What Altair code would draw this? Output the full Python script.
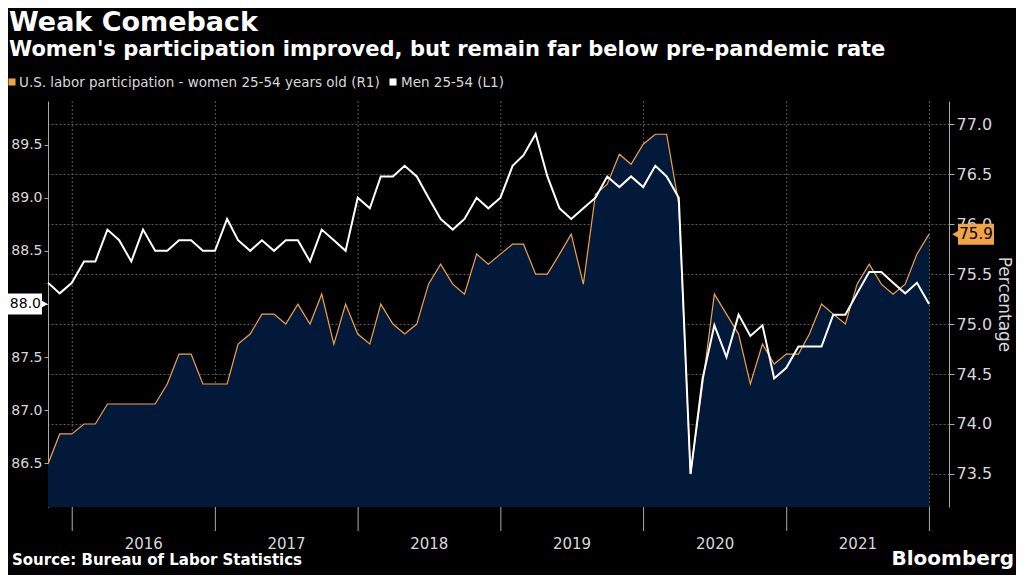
import altair as alt
import pandas as pd

BG = "#000000"
NAVY = "#03193a"
ORANGE = "#f2a444"
GRID = "#5a5a5a"
TEXT = "#d8d8d8"
FONT = "DejaVu Sans"

# monthly readings, Oct 2015 - Dec 2021
women = [
    73.6, 73.9, 73.9, 74.0, 74.0, 74.2, 74.2, 74.2, 74.2, 74.2,
    74.4, 74.7, 74.7, 74.4, 74.4, 74.4, 74.8, 74.9, 75.1, 75.1,
    75.0, 75.2, 75.0, 75.3, 74.8, 75.2, 74.9, 74.8, 75.2, 75.0,
    74.9, 75.0, 75.4, 75.6, 75.4, 75.3, 75.7, 75.6, 75.7, 75.8,
    75.8, 75.5, 75.5, 75.7, 75.9, 75.4, 76.3, 76.4, 76.7, 76.6,
    76.8, 76.9, 76.9, 76.2, 73.5, 74.4, 75.3, 75.1, 74.9, 74.4,
    74.8, 74.6, 74.7, 74.7, 74.9, 75.2, 75.1, 75.0, 75.4, 75.6,
    75.4, 75.3, 75.4, 75.7, 75.9,
]
men = [
    88.2, 88.1, 88.2, 88.4, 88.4, 88.7, 88.6, 88.4, 88.7, 88.5,
    88.5, 88.6, 88.6, 88.5, 88.5, 88.8, 88.6, 88.5, 88.6, 88.5,
    88.6, 88.6, 88.4, 88.7, 88.6, 88.5, 89.0, 88.9, 89.2, 89.2,
    89.3, 89.2, 89.0, 88.8, 88.7, 88.8, 89.0, 88.9, 89.0, 89.3,
    89.4, 89.6, 89.2, 88.9, 88.8, 88.9, 89.0, 89.2, 89.1, 89.2,
    89.1, 89.3, 89.2, 89.0, 86.4, 87.3, 87.8, 87.5, 87.9, 87.7,
    87.8, 87.3, 87.4, 87.6, 87.6, 87.6, 87.9, 87.9, 88.1, 88.3,
    88.3, 88.2, 88.1, 88.2, 88.0,
]
years = ["2016", "2017", "2018", "2019", "2020", "2021"]
left_ticks = [86.5, 87.0, 87.5, 88.0, 88.5, 89.0, 89.5]
right_ticks = [73.5, 74.0, 74.5, 75.0, 75.5, 76.0, 76.5, 77.0]

dates = pd.date_range("2015-10-01", periods=len(women), freq="MS") + pd.offsets.MonthEnd(0)
df = pd.DataFrame({"date": dates, "women": women, "men": men})

W, H = 901, 406
xdom = [pd.Timestamp("2015-10-31").isoformat(), pd.Timestamp("2022-02-20").isoformat()]
xscale = alt.Scale(domain=xdom)
quarters = [d.isoformat() for d in pd.date_range("2016-01-01", "2022-01-01", freq="QS")]
LDOM = [86.09, 89.91]
RDOM = [73.169, 77.233]


def lscale():
    return alt.Scale(domain=LDOM, nice=False, zero=False)


def rscale():
    return alt.Scale(domain=RDOM, nice=False, zero=False)


x_enc = alt.X(
    "date:T", scale=xscale, title=None,
    axis=alt.Axis(values=quarters, labels=False, grid=False, tickSize=5,
                  tickColor="#aaaaaa", domainColor="#aaaaaa"),
)

women_area = alt.Chart(df).mark_area(
    color=NAVY, opacity=1, line={"color": ORANGE, "strokeWidth": 1.2}
).encode(
    x=x_enc,
    y=alt.Y("women:Q", scale=rscale(), title="Percentage",
            axis=alt.Axis(orient="right", values=right_ticks, format=".1f",
                          grid=True, gridColor=GRID, gridDash=[2, 2],
                          tickSize=5, tickColor="#aaaaaa",
                          domainColor="#aaaaaa", labelColor=TEXT, labelFontSize=16,
                          labelFont=FONT, labelPadding=2, titleColor=TEXT,
                          titleFont=FONT, titleFontSize=17, titleFontWeight="normal",
                          titlePadding=3)),
    y2=alt.datum(RDOM[0]),
)

men_line = alt.Chart(df).mark_line(color="white", strokeWidth=2).encode(
    x=alt.X("date:T", scale=xscale, axis=None),
    y=alt.Y("men:Q", scale=lscale(), title=None,
            axis=alt.Axis(orient="left", values=left_ticks, format=".1f", grid=False,
                          tickSize=4, tickColor="#aaaaaa", domainColor="#aaaaaa",
                          labelColor=TEXT, labelFontSize=14, labelFont=FONT,
                          labelPadding=2)),
)

bounds = pd.DataFrame({"b": [pd.Timestamp(f"{y}-01-01") for y in range(2016, 2023)]})
grid_v = alt.Chart(bounds).mark_rule(color=GRID, strokeDash=[2, 2]).encode(
    x=alt.X("b:T", scale=xscale, axis=None), y=alt.value(0), y2=alt.value(H)
)
tick_v = alt.Chart(bounds).mark_rule(color="#aaaaaa").encode(
    x=alt.X("b:T", scale=xscale, axis=None), y=alt.value(H), y2=alt.value(H + 24)
)

ylab = pd.DataFrame({"year": years, "mid": [pd.Timestamp(f"{y}-07-02") for y in years]})
year_text = alt.Chart(ylab).mark_text(font=FONT, fontSize=15, color=TEXT, baseline="middle").encode(
    x=alt.X("mid:T", scale=xscale, axis=None), y=alt.value(H + 37), text="year:N"
)

last = df.iloc[[-1]]
men_box = alt.Chart(last).mark_rect(color="white", height=21).encode(
    x=alt.value(-40), x2=alt.value(-6), y=alt.Y("men:Q", scale=lscale(), axis=None)
)
men_arrow = alt.Chart(last).mark_point(shape="triangle-right", filled=True, color="white",
                                       opacity=1, size=120).encode(
    x=alt.value(-5), y=alt.Y("men:Q", scale=lscale(), axis=None)
)
men_tag_txt = alt.Chart(last).mark_text(font=FONT, fontSize=14, color="black", align="right").encode(
    x=alt.value(-7), y=alt.Y("men:Q", scale=lscale(), axis=None),
    text=alt.Text("men:Q", format=".1f"),
)
women_box = alt.Chart(last).mark_rect(color=ORANGE, height=21).encode(
    x=alt.value(W + 9), x2=alt.value(W + 45), y=alt.Y("women:Q", scale=rscale(), axis=None)
)
women_arrow = alt.Chart(last).mark_point(shape="triangle-left", filled=True, color=ORANGE,
                                         opacity=1, size=120).encode(
    x=alt.value(W + 8), y=alt.Y("women:Q", scale=rscale(), axis=None)
)
women_tag_txt = alt.Chart(last).mark_text(font=FONT, fontSize=15, color="black", align="center").encode(
    x=alt.value(W + 27), y=alt.Y("women:Q", scale=rscale(), axis=None),
    text=alt.Text("women:Q", format=".1f"),
)


def txt(s, x, y, size, weight="normal", align="left", color="white"):
    return alt.Chart(pd.DataFrame({"t": [s]})).mark_text(
        font=FONT, fontSize=size, fontWeight=weight, align=align, color=color, baseline="alphabetic"
    ).encode(x=alt.value(x), y=alt.value(y), text="t:N")


legend_sq = alt.Chart(pd.DataFrame({"c": [ORANGE, "white"], "px": [-36, 345]})).mark_square(
    size=50, filled=True, opacity=1
).encode(x=alt.X("px:Q", scale=None), y=alt.value(-19), color=alt.Color("c:N", scale=None))

texts = [
    txt("Weak Comeback", -39, -70, 27, "bold"),
    txt("Women's participation improved, but remain far below pre-pandemic rate", -39, -45, 21, "bold"),
    txt("U.S. labor participation - women 25-54 years old (R1)", -29, -14, 13.5, color=TEXT),
    txt("Men 25-54 (L1)", 353, -14, 13.5, color=TEXT),
    txt("Source: Bureau of Labor Statistics", -36, 464, 15, "bold"),
    txt("Bloomberg", 966, 464, 20, "bold", align="right"),
]

chart = alt.layer(
    grid_v, women_area, men_line, tick_v, year_text,
    men_box, men_arrow, men_tag_txt, women_box, women_arrow, women_tag_txt, legend_sq, *texts
).resolve_scale(y="independent").properties(
    width=W, height=H, background=BG,
    autosize=alt.AutoSizeParams(type="none"),
    padding={"left": 40, "top": 93, "right": 67, "bottom": 68},
).configure_view(strokeWidth=0)

chart.save("out.html", embed_options={"renderer": "svg", "actions": False})
